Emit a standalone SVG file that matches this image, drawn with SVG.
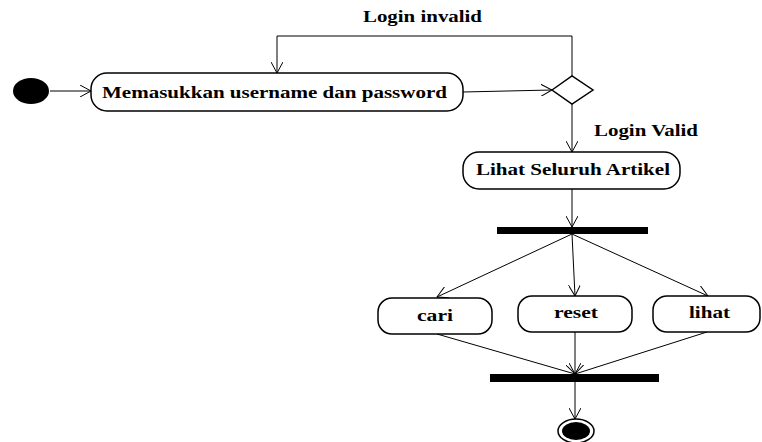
<svg xmlns="http://www.w3.org/2000/svg" width="762" height="442" viewBox="0 0 762 442">
<style>
.act{fill:#fff;stroke:#000;stroke-width:1.5}
.t{font-family:"Liberation Serif","Times New Roman",serif;font-weight:bold;font-size:17px;fill:#000}
.c{fill:none;stroke:#000;stroke-width:1}
</style>
<defs>
<marker id="arr" markerWidth="12" markerHeight="12" refX="11" refY="6" orient="auto" markerUnits="userSpaceOnUse">
<path d="M0,0 L11,6 L0,12" fill="none" stroke="#000" stroke-width="1"/>
</marker>
</defs>
<rect width="762" height="442" fill="#fff"/>
<g id="connectors">
<line class="c" x1="50" y1="91" x2="91" y2="91" marker-end="url(#arr)"/>
<line class="c" x1="463" y1="92" x2="552" y2="90" marker-end="url(#arr)"/>
<polyline class="c" points="572,76 572,36 277,36 277,73" marker-end="url(#arr)"/>
<line class="c" x1="572" y1="104" x2="572" y2="152" marker-end="url(#arr)"/>
<line class="c" x1="572" y1="189" x2="572" y2="227" marker-end="url(#arr)"/>
<line class="c" x1="572" y1="234" x2="437" y2="297" marker-end="url(#arr)"/>
<line class="c" x1="572" y1="234" x2="575" y2="296" marker-end="url(#arr)"/>
<line class="c" x1="572" y1="234" x2="708" y2="296" marker-end="url(#arr)"/>
<line class="c" x1="437" y1="334" x2="575" y2="374" marker-end="url(#arr)"/>
<line class="c" x1="575" y1="332" x2="575" y2="374" marker-end="url(#arr)"/>
<line class="c" x1="707" y1="332" x2="575" y2="374" marker-end="url(#arr)"/>
<line class="c" x1="575" y1="382" x2="575" y2="419" marker-end="url(#arr)"/>
<text class="t" x="363" y="22" textLength="119" lengthAdjust="spacingAndGlyphs">Login invalid</text>
<text class="t" x="594" y="136" textLength="104" lengthAdjust="spacingAndGlyphs">Login Valid</text>
</g>
<g id="start"><ellipse cx="31" cy="91" rx="18" ry="13" fill="#000"/></g>
<g id="masukkan">
<rect class="act" x="91" y="73" width="372" height="38" rx="16"/>
<text class="t" x="102" y="98" textLength="345" lengthAdjust="spacingAndGlyphs">Memasukkan username dan password</text>
</g>
<g id="decision"><polygon points="552,90 572,76 593,90 572,104" fill="#fff" stroke="#000" stroke-width="1.5"/></g>
<g id="lihat-artikel">
<rect class="act" x="463" y="152" width="217" height="37" rx="16"/>
<text class="t" x="476" y="175" textLength="194" lengthAdjust="spacingAndGlyphs">Lihat Seluruh Artikel</text>
</g>
<g id="fork"><rect x="497" y="227" width="151" height="7" fill="#000"/></g>
<g id="cari">
<rect class="act" x="378" y="298" width="114" height="36" rx="14"/>
<text class="t" x="417" y="321" textLength="36" lengthAdjust="spacingAndGlyphs">cari</text>
</g>
<g id="reset">
<rect class="act" x="518" y="296" width="114" height="36" rx="14"/>
<text class="t" x="554" y="318" textLength="44" lengthAdjust="spacingAndGlyphs">reset</text>
</g>
<g id="lihat">
<rect class="act" x="653" y="296" width="107" height="36" rx="14"/>
<text class="t" x="689" y="318" textLength="41" lengthAdjust="spacingAndGlyphs">lihat</text>
</g>
<g id="join"><rect x="490" y="374" width="169" height="8" fill="#000"/></g>
<g id="end">
<ellipse cx="576" cy="431" rx="18" ry="12" fill="#fff" stroke="#000" stroke-width="1.5"/>
<ellipse cx="576" cy="431" rx="14" ry="9" fill="#000"/>
</g>
</svg>
